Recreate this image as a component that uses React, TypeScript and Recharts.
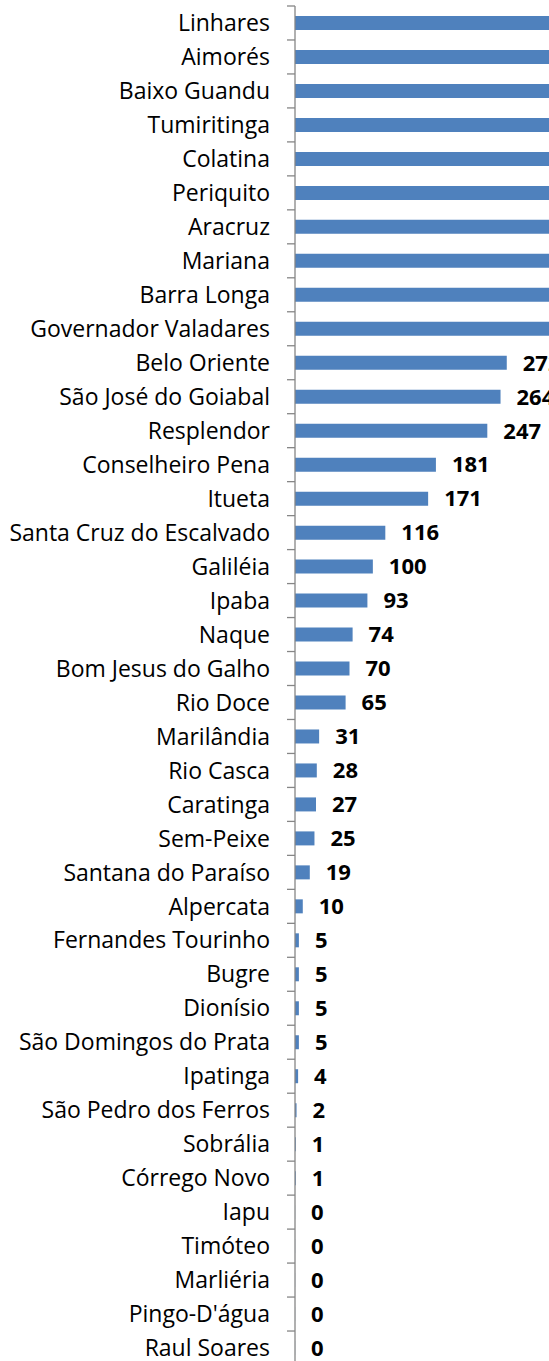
import { BarChart, Bar, XAxis, YAxis, LabelList } from 'recharts'

// municipalities, top to bottom as in the chart
const cities = [
  'Linhares',
  'Aimorés',
  'Baixo Guandu',
  'Tumiritinga',
  'Colatina',
  'Periquito',
  'Aracruz',
  'Mariana',
  'Barra Longa',
  'Governador Valadares',
  'Belo Oriente',
  'São José do Goiabal',
  'Resplendor',
  'Conselheiro Pena',
  'Itueta',
  'Santa Cruz do Escalvado',
  'Galiléia',
  'Ipaba',
  'Naque',
  'Bom Jesus do Galho',
  'Rio Doce',
  'Marilândia',
  'Rio Casca',
  'Caratinga',
  'Sem-Peixe',
  'Santana do Paraíso',
  'Alpercata',
  'Fernandes Tourinho',
  'Bugre',
  'Dionísio',
  'São Domingos do Prata',
  'Ipatinga',
  'São Pedro dos Ferros',
  'Sobrália',
  'Córrego Novo',
  'Iapu',
  'Timóteo',
  'Marliéria',
  "Pingo-D'água",
  'Raul Soares',
]

// the first ten bars run past the right edge of the picture, so these are guesses
const values = [
  640, 610, 580, 545, 510, 475, 445, 415, 385, 355,
  272, 264, 247, 181, 171, 116, 100, 93, 74, 70,
  65, 31, 28, 27, 25, 19, 10, 5, 5, 5,
  5, 4, 2, 1, 1, 0, 0, 0, 0, 0,
]

const xDomain = [0, 700]

const AXIS_X = 295
const PLOT_TOP = 6
const PLOT_H = 1359
const STEP = PLOT_H / cities.length
const FONT = '"Open Sans", sans-serif'

const data = cities.map((name, i) => ({ name, value: values[i] }))

function CityTick(props: any) {
  const { x, y, payload } = props
  return (
    <g>
      <line x1={x - 8} x2={x} y1={y - STEP / 2} y2={y - STEP / 2} stroke="#868686" strokeWidth={1.3} />
      <text
        x={x - 25}
        y={y}
        dy="0.355em"
        textAnchor="end"
        fontFamily={FONT}
        fontSize={23}
        fill="#000"
      >
        {payload.value}
      </text>
    </g>
  )
}

export default function App() {
  return (
    <div
      style={{
        position: 'absolute',
        left: 0,
        top: 0,
        width: 549,
        height: 1361,
        overflow: 'hidden',
        background: '#fff',
      }}
    >
      <BarChart
        width={900}
        height={PLOT_TOP + PLOT_H + 15}
        data={data}
        layout="vertical"
        margin={{ top: PLOT_TOP, right: 60, bottom: 15, left: 0 }}
      >
        <XAxis type="number" domain={xDomain} hide />
        <YAxis
          type="category"
          dataKey="name"
          width={AXIS_X}
          tickLine={false}
          tickSize={0}
          tickMargin={0}
          interval={0}
          axisLine={{ stroke: '#868686', strokeWidth: 1.3 }}
          tick={<CityTick />}
        />
        <Bar
          dataKey="value"
          fill="#4F81BD"
          barSize={14}
          minPointSize={0.1}
          isAnimationActive={false}
        >
          <LabelList
            dataKey="value"
            position="right"
            offset={16}
            fill="#000"
            fontFamily={FONT}
            fontSize={22}
            fontWeight="bold"
          />
        </Bar>
      </BarChart>
    </div>
  )
}
